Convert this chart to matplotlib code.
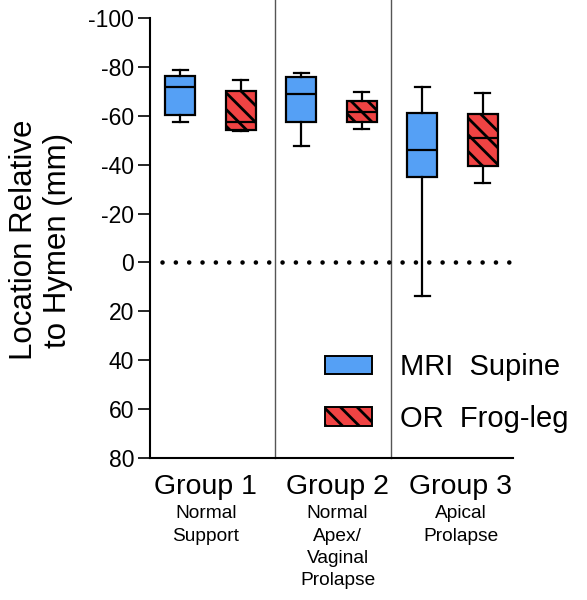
import matplotlib
matplotlib.use("Agg")
import matplotlib.pyplot as plt
from matplotlib.patches import Patch

plt.rcParams['font.family'] = ['Liberation Sans', 'DejaVu Sans']
plt.rcParams['hatch.linewidth'] = 2.0
plt.rcParams['hatch.color'] = 'black'

# values (mm relative to hymen)
groups = ["Group 1", "Group 2", "Group 3"]
subtitles = ["Normal\nSupport", "Normal\nApex/\nVaginal\nProlapse", "Apical\nProlapse"]
series = ["MRI  Supine", "OR  Frog-leg"]

mri_whislo = [-57.6, -47.5, 13.7]
mri_q1 = [-60.4, -57.6, -34.8]
mri_med = [-71.8, -69.1, -45.8]
mri_q3 = [-76.3, -75.9, -61.2]
mri_whishi = [-78.8, -77.6, -71.6]

or_whislo = [-53.6, -54.7, -32.7]
or_q1 = [-54.2, -57.3, -39.6]
or_med = [-57.6, -61.6, -50.9]
or_q3 = [-70.2, -66.1, -60.8]
or_whishi = [-74.7, -69.8, -69.5]

y_ticks = [-100, -80, -60, -40, -20, 0, 20, 40, 60, 80]

blue = '#55a0f5'
red = '#f04343'


def stats(lo, q1, med, q3, hi):
    out = []
    for i in range(len(lo)):
        out.append({'whislo': lo[i], 'q1': q1[i], 'med': med[i],
                    'q3': q3[i], 'whishi': hi[i], 'fliers': []})
    return out


fig = plt.figure(figsize=(5.87, 6), dpi=100)
ax = fig.add_axes([0.2555, 0.2367, 0.6184, 0.7333])

pos = [1, 2, 3]
line = dict(color='black', linewidth=1.6)
b1 = ax.bxp(stats(mri_whislo, mri_q1, mri_med, mri_q3, mri_whishi),
            positions=[p - 0.25 for p in pos], widths=0.25, patch_artist=True,
            boxprops=dict(facecolor=blue, edgecolor='black', linewidth=1.6),
            medianprops=line, whiskerprops=line, capprops=line, showfliers=False)
b2 = ax.bxp(stats(or_whislo, or_q1, or_med, or_q3, or_whishi),
            positions=[p + 0.25 for p in pos], widths=0.25, patch_artist=True,
            boxprops=dict(facecolor=red, edgecolor='black', linewidth=1.6, hatch='\\\\'),
            medianprops=line, whiskerprops=line, capprops=line, showfliers=False)

# zero line
ax.plot([0.6, 3.47], [0, 0], color='black', linewidth=3.3,
        linestyle=(0, (0.01, 2.9)), dash_capstyle='round', zorder=1)

# group dividers
for xd in [1.53, 2.49]:
    ax.plot([xd, xd], [80, -107.5], color='#555555', linewidth=1.0,
            clip_on=False, zorder=0)

ax.set_xlim(0.5, 3.5)
ax.set_ylim(80, -100)
ax.set_yticks(y_ticks)
ax.set_yticklabels([str(t) for t in y_ticks])
ax.set_xticks([])
ax.tick_params(axis='y', labelsize=16.5, length=8.5, width=1.2, pad=3)
ax.spines['top'].set_visible(False)
ax.spines['right'].set_visible(False)
ax.spines['left'].set_linewidth(1.5)
ax.spines['bottom'].set_linewidth(1.5)

fig.text(41 / 587, 1 - 240 / 600, "Location Relative\nto Hymen (mm)", rotation=90,
         ha='center', va='center', fontsize=22.5, linespacing=1.15, multialignment='center')

label_x = [0.96, 2.05, 3.07]
for i in range(3):
    ax.text(label_x[i], -0.066, groups[i], transform=ax.get_xaxis_transform(),
            ha='center', va='center', fontsize=20.5)
    ax.text(label_x[i], -0.107, subtitles[i], transform=ax.get_xaxis_transform(),
            ha='center', va='top', fontsize=13.8, linespacing=1.42)

handles = [Patch(facecolor=blue, edgecolor='black', linewidth=1.4),
           Patch(facecolor=red, edgecolor='black', linewidth=1.4, hatch='\\\\')]
ax.legend(handles, series, loc='center left', bbox_to_anchor=(325 / 587, 1 - 393 / 600),
          bbox_transform=fig.transFigure, frameon=False, fontsize=21,
          handlelength=1.62, handleheight=0.59, handletextpad=0.95,
          labelspacing=0.8, borderpad=0, borderaxespad=0)

fig.savefig("out.png", dpi=100)
